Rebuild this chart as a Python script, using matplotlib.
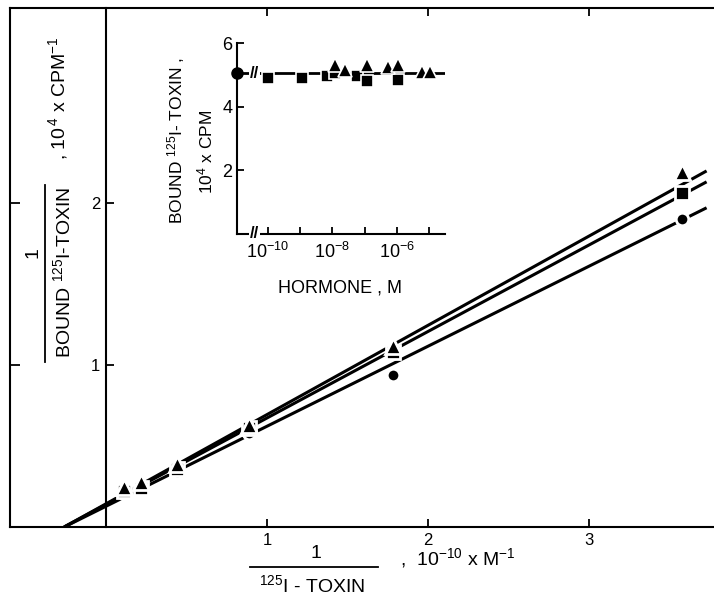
import numpy as np
import matplotlib
matplotlib.use("Agg")
import matplotlib.pyplot as plt
from matplotlib.lines import Line2D
from matplotlib.ticker import NullFormatter, FixedLocator

plt.rcParams['font.family'] = ['Liberation Sans', 'DejaVu Sans']
plt.rcParams['mathtext.fontset'] = 'custom'
plt.rcParams['mathtext.rm'] = 'Liberation Sans'
plt.rcParams['mathtext.it'] = 'Liberation Sans:italic'
plt.rcParams['mathtext.bf'] = 'Liberation Sans:bold'

# double reciprocal plot: 1/[125I-toxin] (1e-10 x M^-1) vs 1/bound (1e4 x CPM^-1)
inv_toxin = [0.11, 0.22, 0.44, 0.89, 1.78, 3.58]
inv_bound_tri = [0.25, 0.28, 0.39, 0.63, 1.12, 2.19]
inv_bound_sq = [0.22, 0.24, 0.36, 0.61, 1.08, 2.06]
inv_bound_circ = [0.21, 0.23, 0.34, 0.58, 0.94, 1.90]

# fitted lines: (intercept, slope)
fit_tri = (0.143, 0.551)
fit_sq = (0.139, 0.534)
fit_circ = (0.128, 0.494)
fit_xmax = 3.73

# inset: bound toxin (1e4 x CPM) vs hormone concentration (M)
hormone_tri = [1.2e-8, 2.5e-8, 1.2e-7, 5.4e-7, 1.1e-6, 6e-6, 1.07e-5]
bound_tri = [5.3, 5.15, 5.3, 5.25, 5.3, 5.1, 5.1]
hormone_sq = [1e-10, 1.15e-9, 6.8e-9, 1.2e-8, 5.8e-8, 1.2e-7, 1.1e-6]
bound_sq = [4.9, 4.9, 4.95, 5.05, 4.95, 4.8, 4.85]
bound_control = 5.05

W, H = 714, 599
fig = plt.figure(figsize=(W / 100, H / 100), dpi=100)


def fx(x):
    return x / W


def fy(y):
    return 1 - y / H


# ---- main axes ----
ax = fig.add_axes([fx(10), fy(527), fx(704), (527 - 8) / H])
ax.set_xlim(-0.596, 3.776)
ax.set_ylim(0, 3.204)
ax.spines['right'].set_visible(False)
ax.spines['left'].set_position(('data', 0))
for s in ['left', 'top', 'bottom']:
    ax.spines[s].set_linewidth(1.5)
ax.set_xticks([1, 2, 3])
ax.set_yticks([1, 2])
ax.tick_params(axis='x', direction='in', length=6, width=1.3, top=True,
               labelsize=12, pad=4)
ax.tick_params(axis='y', direction='in', length=6, width=1.3, labelsize=12, pad=4)

# outer frame on the left with its own ticks
frame = ax.secondary_yaxis(0.0)
frame.set_yticks([1, 2])
frame.set_yticklabels([])
frame.tick_params(direction='in', length=7, width=1.3)
frame.spines['left'].set_linewidth(1.5)

for (a, b) in [fit_circ, fit_sq, fit_tri]:
    xs = np.linspace(-a / b, fit_xmax, 50)
    ax.plot(xs, a + b * xs, color='black', lw=2.2, zorder=2, solid_capstyle='butt')

mk = dict(color='black', linestyle='none', markeredgecolor='white',
          markeredgewidth=2, zorder=3, clip_on=False)
ax.plot(inv_toxin, inv_bound_circ, marker='o', markersize=9, **mk)
ax.plot(inv_toxin, inv_bound_sq, marker='s', markersize=10, **mk)
ax.plot(inv_toxin, inv_bound_tri, marker='^', markersize=12, **mk)

# y axis label (stacked fraction, rotated)
fig.text(fx(33), fy(253), '1', rotation=90, ha='center', va='center', fontsize=14)
fig.add_artist(Line2D([fx(45), fx(45)], [fy(185), fy(362)], color='black', lw=1.3))
fig.text(fx(63), fy(272), r'BOUND $^{125}$I-TOXIN', rotation=90,
         ha='center', va='center', fontsize=14)
fig.text(fx(58), fy(98), r', $10^{\,4}$ x CPM$^{-1}$', rotation=90,
         ha='center', va='center', fontsize=14)

# x axis label
fig.text(fx(316), fy(553), '1', ha='center', va='center', fontsize=14)
fig.add_artist(Line2D([fx(250), fx(378)], [fy(567), fy(567)], color='black', lw=1.3))
fig.text(fx(312), fy(585), r'$^{125}$I - TOXIN', ha='center', va='center', fontsize=14)
fig.text(fx(400), fy(558), r',  $10^{-10}$ x M$^{-1}$', ha='left', va='center', fontsize=14)

# ---- inset ----
ins = fig.add_axes([fx(237), fy(234), fx(208), (234 - 43) / H])
ins.set_xscale('log')
ins.set_xlim(10 ** -10.96, 10 ** -4.5)
ins.set_ylim(0, 6)
ins.spines['right'].set_visible(False)
ins.spines['top'].set_visible(False)
ins.spines['left'].set_linewidth(1.5)
ins.spines['bottom'].set_linewidth(1.5)
ins.set_yticks([2, 4, 6])
ins.set_xticks([1e-10, 1e-8, 1e-6])
ins.set_xticklabels([r'$10^{-10}$', r'$10^{-8}$', r'$10^{-6}$'])
ins.xaxis.set_minor_locator(FixedLocator([1e-9, 1e-7, 1e-5]))
ins.xaxis.set_minor_formatter(NullFormatter())
ins.tick_params(axis='both', which='both', direction='in', length=5, width=1.3,
                labelsize=13)
ins.tick_params(axis='x', pad=6)
ins.patch.set_alpha(0)

ins.axhline(bound_control, color='black', lw=2, zorder=2)
imk = dict(color='black', linestyle='none', markeredgecolor='white',
           markeredgewidth=1.2, zorder=3)
ins.plot(hormone_sq, bound_sq, marker='s', markersize=8, **imk)
ins.plot(hormone_tri, bound_tri, marker='^', markersize=10, **imk)
ins.plot([ins.get_xlim()[0]], [bound_control], marker='o', markersize=8,
         color='black', linestyle='none', clip_on=False, zorder=4)

# axis breaks
ins.text(0.085, 0.0, '//', transform=ins.transAxes, ha='center', va='center',
         fontsize=12, fontweight='bold',
         bbox=dict(facecolor='white', edgecolor='none', pad=0.5))
ins.text(0.085, bound_control / 6, '//', transform=ins.transAxes, ha='center',
         va='center', fontsize=12, fontweight='bold',
         bbox=dict(facecolor='white', edgecolor='none', pad=0.5))

fig.text(fx(176), fy(140), r'BOUND $^{125}$I- TOXIN ,', rotation=90,
         ha='center', va='center', fontsize=12.5)
fig.text(fx(205), fy(152), r'$10^{4}$ x CPM', rotation=90,
         ha='center', va='center', fontsize=12.5)
fig.text(fx(340), fy(288), 'HORMONE , M', ha='center', va='center', fontsize=13)

fig.savefig('out.png', dpi=100)
